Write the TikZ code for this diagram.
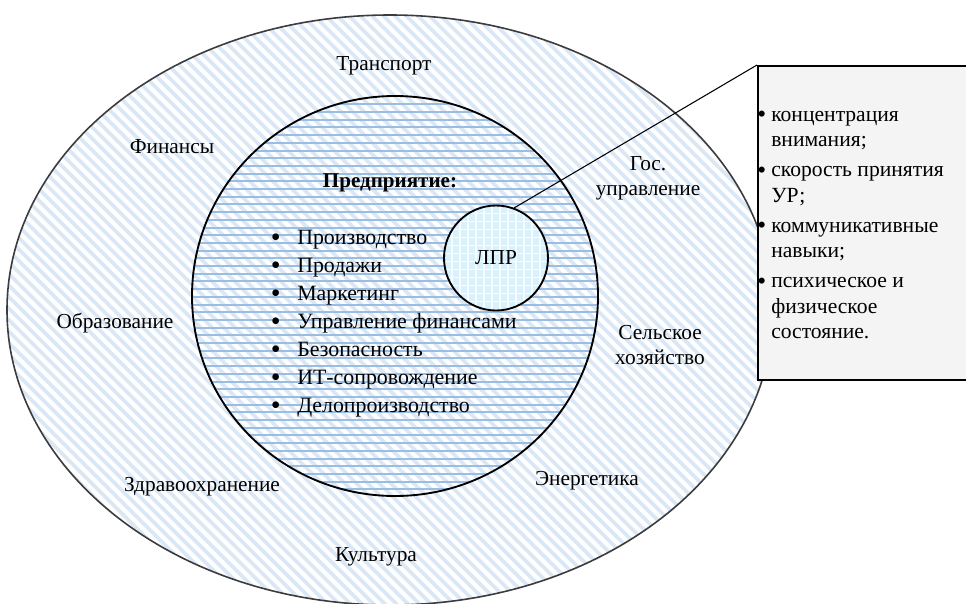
\documentclass[tikz,border=0pt]{standalone}
\usepackage{fontspec}
\setmainfont{Liberation Serif}
\usetikzlibrary{positioning,calc,shapes.geometric}
\definecolor{outerstripe}{RGB}{218,231,246}
\definecolor{innerline}{RGB}{155,189,226}
\definecolor{lprfill}{RGB}{218,241,251}
\definecolor{notefill}{RGB}{244,244,244}
\definecolor{outerdraw}{RGB}{60,60,60}
\newcommand{\bul}{\makebox[20.25pt][l]{\hspace*{0.5pt}\raisebox{-1.2pt}{\fontsize{21}{21}\selectfont\textbullet}}}
\newcommand{\nbul}{\makebox[10.5pt][l]{\raisebox{-1pt}{\fontsize{19}{19}\selectfont\textbullet}}}
\newcommand{\nind}{\hspace*{10.5pt}}

\begin{document}
\begin{tikzpicture}[x=0.75pt,y=-0.75pt,
    every node/.style={font=\fontsize{16}{19}\selectfont},
    zone/.style={ellipse,inner sep=0pt},
    label/.style={align=center,inner sep=0pt}]
\useasboundingbox (0,0) rectangle (966,603);

% outer ring: branches
\node[zone,draw=outerdraw,line width=1.2pt,minimum width=574.5pt,minimum height=442.5pt,
    path picture={\foreach \k in {0,...,130}
        \draw[outerstripe,line width=2.8pt] ($(path picture bounding box.north west)+(\k*11.5-630,-5)$) -- ++(640,640);}]
    (outer) at (390,310) {};

% enterprise
\node[zone,draw,line width=1.4pt,minimum width=304.5pt,minimum height=300pt,
    path picture={\foreach \k in {0,...,52}
        \draw[innerline,line width=1.5pt] ($(path picture bounding box.north west)+(-5,8.3+\k*7.7)$) -- ++(420,0);}]
    (firm) at (395,296) {};

% decision maker
\node[zone,draw,line width=1.4pt,fill=lprfill,minimum width=78pt,minimum height=78.75pt,
    path picture={\foreach \k in {0,...,14}{
        \draw[white,opacity=.8,line width=1.1pt] ($(path picture bounding box.north west)+(\k*8,-5)$) -- ++(0,120);
        \draw[white,opacity=.8,line width=1.1pt] ($(path picture bounding box.north west)+(-5,\k*8)$) -- ++(120,0);}}]
    (lpr) at (496,258) {ЛПР};

\node[rectangle,draw,line width=1.2pt,fill=notefill,anchor=north west,
    minimum width=165pt,minimum height=235.5pt] (note) at (757,65) {};
\draw[line width=.8pt] (lpr.70) -- (note.north west);

% branches
\node[label] (transp) at (384,66) {Транспорт};
\node[label] (fin) at (172,147) {Финансы};
\node[label] (gos) at (648,178) {Гос.\\управление};
\node[label] (edu) at (115,323) {Образование};
\node[label] (agro) at (660,345) {Сельское\\хозяйство};
\node[label] (health) at (202,487) {Здравоохранение};
\node[label] (energy) at (587,481) {Энергетика};
\node[label] (cult) at (376,557) {Культура};

% enterprise functions
\node[label,font=\fontsize{15.8}{19}\selectfont\bfseries] (firmtitle) at (390,183) {Предприятие:};
\node[align=left,inner sep=0pt,anchor=north west,font=\fontsize{16.4}{21}\selectfont] (funcs) at (270,230)
    {\bul Производство\\ \bul Продажи\\ \bul Маркетинг\\ \bul Управление финансами\\
     \bul Безопасность\\ \bul ИТ-сопровождение\\ \bul Делопроизводство};

% qualities
\node[align=left,inner sep=0pt,anchor=north west,font=\fontsize{16.2}{19.1}\selectfont] (quals) at (757,111)
    {\nbul концентрация\\ \nind внимания;\\[3.4pt]
     \nbul скорость принятия\\ \nind УР;\\[3.4pt]
     \nbul коммуникативные\\ \nind навыки;\\[3.4pt]
     \nbul психическое и\\ \nind физическое\\ \nind состояние.};
\end{tikzpicture}
\end{document}
